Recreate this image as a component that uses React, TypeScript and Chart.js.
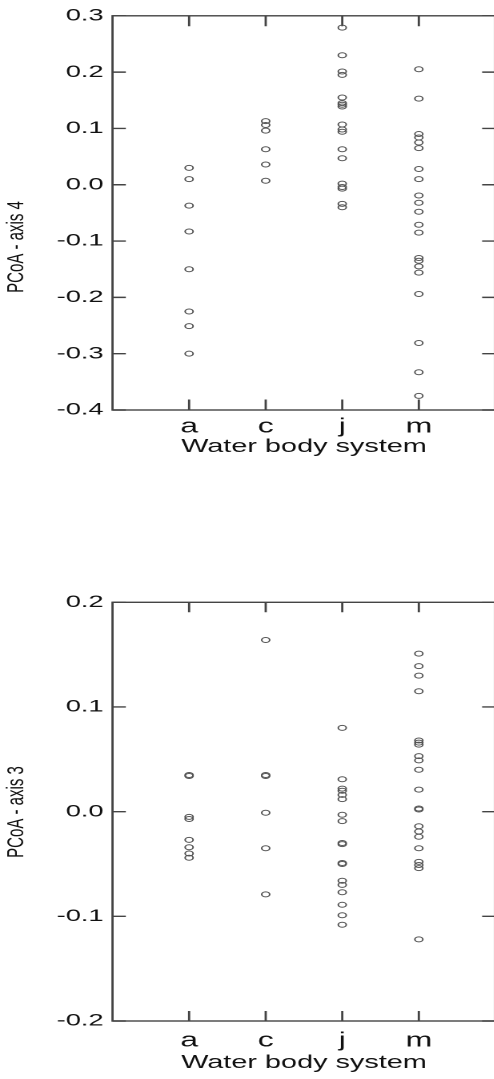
import React, { useEffect, useRef } from 'react';
import { Chart, registerables } from 'chart.js';

Chart.register(...registerables);

// ---------- data ----------
const categories = ['a', 'c', 'j', 'm'];

const axis4Ticks = [0.3, 0.2, 0.1, 0.0, -0.1, -0.2, -0.3, -0.4];
const axis3Ticks = [0.2, 0.1, 0.0, -0.1, -0.2];

const axis4A = [0.030, 0.010, -0.037, -0.083, -0.150, -0.225, -0.251, -0.300];
const axis4C = [0.113, 0.106, 0.096, 0.063, 0.036, 0.007];
const axis4J = [0.279, 0.230, 0.201, 0.195, 0.155, 0.145, 0.142, 0.139, 0.107, 0.098, 0.094, 0.063, 0.047, 0.002, -0.004, -0.007, -0.034, -0.040];
const axis4M = [0.205, 0.153, 0.090, 0.084, 0.075, 0.065, 0.028, 0.010, -0.019, -0.032, -0.048, -0.071, -0.085, -0.130, -0.135, -0.145, -0.156, -0.194, -0.281, -0.333, -0.375];

const axis3A = [0.035, 0.034, -0.005, -0.007, -0.027, -0.034, -0.040, -0.044];
const axis3C = [0.164, 0.035, 0.034, -0.001, -0.035, -0.079];
const axis3J = [0.080, 0.031, 0.022, 0.020, 0.016, 0.012, -0.003, -0.009, -0.030, -0.031, -0.049, -0.050, -0.066, -0.070, -0.077, -0.089, -0.099, -0.108];
const axis3M = [0.151, 0.139, 0.130, 0.115, 0.068, 0.066, 0.064, 0.053, 0.049, 0.040, 0.021, 0.003, 0.002, -0.014, -0.019, -0.024, -0.035, -0.048, -0.051, -0.054, -0.122];

const xTitle = 'Water body system';
const yTitle4 = 'PCoA - axis 4';
const yTitle3 = 'PCoA - axis 3';

// ---------- layout / style ----------
const SX = 1.6; // horizontal stretch of the rendered picture
const RW = 313; // render width of each canvas
const LINE = '#444444';
const TEXT = '#111111';
const POINT = '#555555';
const SANS = '"Liberation Sans", Arial, Helvetica, sans-serif';

function buildPoints(groups: number[][]) {
  const pts: { x: number; y: number }[] = [];
  groups.forEach((vals, i) => vals.forEach((v) => pts.push({ x: i + 1, y: v })));
  return pts;
}

const framePlugin = {
  id: 'frame',
  beforeDatasetsDraw(chart: any, _args: any, opts: any) {
    const { ctx, chartArea, scales } = chart;
    const { left, right, top, bottom } = chartArea;
    ctx.save();
    ctx.strokeStyle = opts.color;
    ctx.lineWidth = opts.lineWidth;
    ctx.strokeRect(left, top, right - left, bottom - top);
    ctx.beginPath();
    scales.x.ticks.forEach((_t: any, i: number) => {
      const px = scales.x.getPixelForTick(i);
      ctx.moveTo(px, top);
      ctx.lineTo(px, top + opts.xTickLen);
      ctx.moveTo(px, bottom);
      ctx.lineTo(px, bottom - opts.xTickLen);
    });
    scales.y.ticks.forEach((_t: any, i: number) => {
      const py = scales.y.getPixelForTick(i);
      ctx.moveTo(left, py);
      ctx.lineTo(left + opts.yTickLen, py);
      ctx.moveTo(right, py);
      ctx.lineTo(right - opts.yTickLen, py);
    });
    ctx.stroke();
    // rotated y-axis title
    ctx.translate(opts.titleX, opts.titleY);
    ctx.rotate(-Math.PI / 2);
    ctx.fillStyle = opts.titleColor;
    ctx.font = opts.titleFont;
    ctx.textAlign = 'center';
    ctx.textBaseline = 'middle';
    ctx.fillText(opts.title, 0, 0);
    ctx.restore();
  },
};

interface PanelOpts {
  groups: number[][];
  ticks: number[];
  yTitle: string;
  padTop: number;
  height: number;
  xAxisH: number;
  xLabelPad: number;
  xTitlePadBottom: number;
  yTitleY: number;
  xTickLen: number;
}

function makeConfig(p: PanelOpts): any {
  return {
    type: 'scatter',
    data: {
      datasets: [
        {
          data: buildPoints(p.groups),
          pointRadius: 2.5,
          pointHoverRadius: 2.5,
          pointBorderWidth: 1,
          pointBorderColor: POINT,
          pointBackgroundColor: 'rgba(0,0,0,0)',
          showLine: false,
        },
      ],
    },
    options: {
      animation: false,
      responsive: false,
      maintainAspectRatio: false,
      devicePixelRatio: 2,
      events: [],
      layout: { padding: { left: 0, right: 2.2, top: p.padTop, bottom: 0 } },
      plugins: {
        legend: { display: false },
        tooltip: { enabled: false },
        frame: {
          color: LINE,
          lineWidth: 1.4,
          xTickLen: p.xTickLen,
          yTickLen: 8.3,
          title: p.yTitle,
          titleX: 10.6,
          titleY: p.yTitleY,
          titleColor: TEXT,
          titleFont: `15px ${SANS}`,
        },
      },
      scales: {
        x: {
          type: 'linear',
          min: 0,
          max: categories.length + 1,
          afterBuildTicks: (s: any) => {
            s.ticks = categories.map((_c, i) => ({ value: i + 1 }));
          },
          afterFit: (s: any) => {
            s.height = p.xAxisH;
          },
          grid: { display: false, drawTicks: false },
          border: { display: false },
          ticks: {
            callback: (_v: any, i: number) => categories[i],
            font: { family: SANS, size: 20 },
            color: TEXT,
            padding: p.xLabelPad,
            maxRotation: 0,
            minRotation: 0,
            autoSkip: false,
          },
          title: {
            display: true,
            text: xTitle,
            color: TEXT,
            font: { family: SANS, size: 18 },
            padding: { top: 0, bottom: p.xTitlePadBottom },
          },
        },
        y: {
          type: 'linear',
          min: Math.min(...p.ticks),
          max: Math.max(...p.ticks),
          afterBuildTicks: (s: any) => {
            s.ticks = p.ticks.map((v) => ({ value: v }));
          },
          afterFit: (s: any) => {
            s.width = 70.3;
          },
          grid: { display: false, drawTicks: false },
          border: { display: false },
          ticks: {
            callback: (v: any) => Number(v).toFixed(1),
            font: { family: SANS, size: 17 },
            color: TEXT,
            padding: 5.6,
            autoSkip: false,
          },
        },
      },
    },
    plugins: [framePlugin],
  };
}

function Panel({ top, opts }: { top: number; opts: PanelOpts }) {
  const ref = useRef<HTMLCanvasElement>(null);
  useEffect(() => {
    const chart = new Chart(ref.current as HTMLCanvasElement, makeConfig(opts));
    return () => chart.destroy();
  }, []);
  return (
    <canvas
      ref={ref}
      width={RW}
      height={opts.height}
      style={{
        position: 'absolute',
        left: 0,
        top,
        width: `${RW * SX}px`,
        height: `${opts.height}px`,
      }}
    />
  );
}

export default function App() {
  return (
    <div
      style={{
        position: 'fixed',
        left: 0,
        top: 0,
        width: 494,
        height: 1079,
        overflow: 'hidden',
        background: '#ffffff',
      }}
    >
      <Panel
        top={0}
        opts={{
          groups: [axis4A, axis4C, axis4J, axis4M],
          ticks: axis4Ticks,
          yTitle: yTitle4,
          padTop: 12,
          height: 460,
          xAxisH: 50,
          xLabelPad: 5,
          xTitlePadBottom: 2,
          yTitleY: 247,
          xTickLen: 10.5,
        }}
      />
      <Panel
        top={560}
        opts={{
          groups: [axis3A, axis3C, axis3J, axis3M],
          ticks: axis3Ticks,
          yTitle: yTitle3,
          padTop: 42.3,
          height: 519,
          xAxisH: 58,
          xLabelPad: 8,
          xTitlePadBottom: 5,
          yTitleY: 252,
          xTickLen: 10,
        }}
      />
    </div>
  );
}
